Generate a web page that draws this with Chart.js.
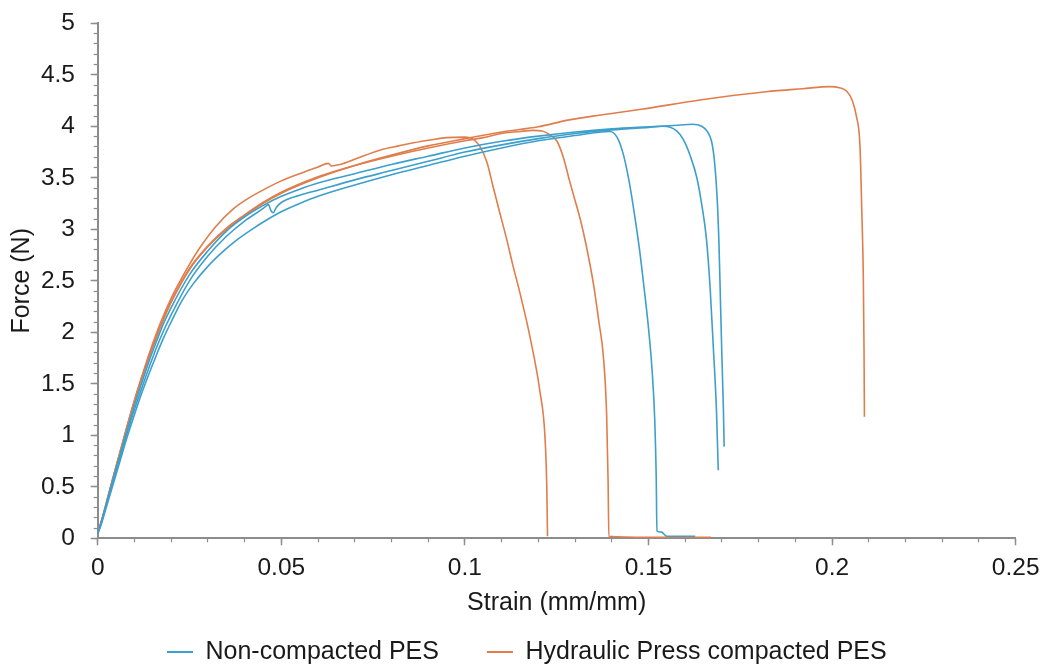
<!DOCTYPE html>
<html>
<head>
<meta charset="utf-8">
<title>Force vs strain</title>
<script src="https://cdn.jsdelivr.net/npm/chart.js@4.4.1/dist/chart.umd.min.js"></script>
<style>
  html, body { margin: 0; padding: 0; background: #fff; }
  #wrap { width: 1042px; height: 664px; position: relative; }
</style>
</head>
<body>
<div id="wrap"><canvas id="force-strain"></canvas></div>
<script>
var BLUE = "#3d9fcb"
var ORANGE = "#e07d4c"
var AXIS = "#8c8c8c"
var TEXT = "#1a1a1a"

var SERIES_NAMES = ["Non-compacted PES", "Hydraulic Press compacted PES"]

// non-compacted samples
var nc1Strain = [0, 0.001, 0.002, 0.004, 0.006, 0.008, 0.010, 0.012, 0.014, 0.016, 0.018, 0.020, 0.023, 0.026, 0.030, 0.034, 0.038, 0.042, 0.046, 0.050, 0.055, 0.060, 0.070, 0.080, 0.090, 0.100, 0.110, 0.120, 0.130, 0.136, 0.1395, 0.1415, 0.1432, 0.1448, 0.1462, 0.1476, 0.1488, 0.1500, 0.1510, 0.1517, 0.1521, 0.1523, 0.1535, 0.1550, 0.1600, 0.1627]
var nc1Force  = [0.04, 0.14, 0.26, 0.50, 0.74, 0.98, 1.20, 1.41, 1.60, 1.78, 1.95, 2.10, 2.31, 2.47, 2.64, 2.78, 2.90, 3.00, 3.09, 3.17, 3.25, 3.32, 3.43, 3.53, 3.62, 3.71, 3.79, 3.86, 3.91, 3.94, 3.95, 3.89, 3.72, 3.45, 3.14, 2.79, 2.43, 2.04, 1.62, 1.15, 0.60, 0.07, 0.06, 0.02, 0.02, 0.02]

var nc2Strain = [0, 0.001, 0.002, 0.004, 0.006, 0.008, 0.010, 0.012, 0.014, 0.016, 0.018, 0.020, 0.025, 0.030, 0.035, 0.040, 0.045, 0.0465, 0.0472, 0.0478, 0.0486, 0.050, 0.055, 0.060, 0.070, 0.080, 0.090, 0.100, 0.110, 0.120, 0.130, 0.140, 0.150, 0.1540, 0.1575, 0.1595, 0.1615, 0.1631, 0.1645, 0.1658, 0.1668, 0.1676, 0.1685, 0.1690]
var nc2Force  = [0.05, 0.15, 0.28, 0.53, 0.78, 1.02, 1.25, 1.46, 1.66, 1.85, 2.02, 2.17, 2.50, 2.74, 2.93, 3.08, 3.20, 3.24, 3.18, 3.16, 3.21, 3.26, 3.33, 3.38, 3.48, 3.57, 3.66, 3.75, 3.82, 3.88, 3.93, 3.965, 3.99, 4.00, 3.96, 3.87, 3.70, 3.51, 3.24, 2.90, 2.42, 1.89, 1.25, 0.66]

var nc3Strain = [0, 0.001, 0.002, 0.004, 0.006, 0.008, 0.010, 0.012, 0.014, 0.016, 0.018, 0.020, 0.025, 0.030, 0.035, 0.040, 0.045, 0.050, 0.055, 0.060, 0.070, 0.080, 0.090, 0.100, 0.110, 0.120, 0.130, 0.140, 0.150, 0.158, 0.162, 0.1645, 0.1660, 0.1672, 0.1680, 0.1687, 0.1692, 0.1696, 0.1700, 0.1704, 0.1706]
var nc3Force  = [0.05, 0.16, 0.29, 0.55, 0.80, 1.05, 1.29, 1.51, 1.72, 1.91, 2.09, 2.24, 2.56, 2.79, 2.98, 3.12, 3.23, 3.32, 3.39, 3.45, 3.54, 3.63, 3.71, 3.79, 3.855, 3.905, 3.945, 3.975, 3.995, 4.01, 4.02, 4.00, 3.95, 3.85, 3.65, 3.30, 2.85, 2.30, 1.75, 1.25, 0.89]

// hydraulic press compacted samples
var hp1Strain = [0, 0.001, 0.002, 0.004, 0.006, 0.008, 0.010, 0.012, 0.014, 0.016, 0.018, 0.020, 0.022, 0.025, 0.028, 0.032, 0.037, 0.041, 0.046, 0.050, 0.055, 0.060, 0.0628, 0.0637, 0.066, 0.070, 0.077, 0.082, 0.086, 0.091, 0.095, 0.100, 0.102, 0.104, 0.106, 0.1077, 0.1095, 0.1114, 0.113, 0.115, 0.1177, 0.1205, 0.1218, 0.1223, 0.1225]
var hp1Force  = [0.06, 0.17, 0.30, 0.57, 0.83, 1.09, 1.34, 1.57, 1.79, 1.99, 2.17, 2.33, 2.47, 2.66, 2.83, 3.02, 3.20, 3.30, 3.40, 3.47, 3.54, 3.605, 3.64, 3.615, 3.63, 3.68, 3.77, 3.81, 3.84, 3.87, 3.89, 3.895, 3.88, 3.81, 3.65, 3.41, 3.16, 2.90, 2.66, 2.38, 1.96, 1.41, 0.99, 0.50, 0.02]

var hp2Strain = [0, 0.001, 0.002, 0.004, 0.006, 0.008, 0.010, 0.012, 0.014, 0.016, 0.018, 0.020, 0.025, 0.030, 0.035, 0.040, 0.045, 0.050, 0.060, 0.070, 0.080, 0.090, 0.100, 0.105, 0.110, 0.115, 0.1185, 0.121, 0.123, 0.125, 0.1268, 0.1285, 0.1300, 0.1314, 0.1330, 0.1350, 0.1365, 0.1377, 0.1386, 0.1390, 0.1392, 0.150, 0.167]
var hp2Force  = [0.05, 0.16, 0.29, 0.56, 0.82, 1.08, 1.33, 1.56, 1.77, 1.96, 2.14, 2.30, 2.62, 2.84, 3.01, 3.14, 3.26, 3.36, 3.51, 3.62, 3.71, 3.79, 3.86, 3.89, 3.93, 3.95, 3.96, 3.955, 3.92, 3.86, 3.70, 3.47, 3.28, 3.10, 2.85, 2.47, 2.10, 1.77, 1.20, 0.55, 0.02, 0.01, 0.01]

var hp3Strain = [0, 0.001, 0.002, 0.004, 0.006, 0.008, 0.010, 0.012, 0.014, 0.016, 0.018, 0.020, 0.025, 0.030, 0.035, 0.040, 0.045, 0.050, 0.060, 0.070, 0.080, 0.090, 0.100, 0.110, 0.120, 0.128, 0.137, 0.148, 0.164, 0.182, 0.192, 0.1994, 0.202, 0.204, 0.2055, 0.2066, 0.2076, 0.2081, 0.2085, 0.2087, 0.2088]
var hp3Force  = [0.05, 0.16, 0.29, 0.56, 0.82, 1.08, 1.33, 1.55, 1.76, 1.95, 2.13, 2.29, 2.61, 2.83, 3.00, 3.13, 3.25, 3.35, 3.50, 3.62, 3.72, 3.81, 3.88, 3.945, 3.995, 4.06, 4.11, 4.165, 4.255, 4.335, 4.365, 4.385, 4.375, 4.34, 4.25, 4.10, 3.80, 3.16, 2.54, 1.80, 1.18]

function points(xs, ys) {
  return xs.map(function (x, i) { return { x: x, y: ys[i] } })
}

function curve(name, color, xs, ys) {
  return {
    label: name,
    data: points(xs, ys),
    borderColor: color,
    backgroundColor: color,
    borderWidth: 1.6,
    pointRadius: 0,
    showLine: true,
    cubicInterpolationMode: "monotone"
  }
}

// 5 not 5.0, 0.1 not 0.10
function plainLabel(v) {
  return String(Math.round(v * 1000) / 1000)
}

Chart.defaults.font.family = '"Liberation Sans", Arial, sans-serif'
Chart.defaults.color = TEXT

var ctx = document.getElementById("force-strain")
var chart = new Chart(ctx, {
  type: "scatter",
  data: {
    datasets: [
      curve(SERIES_NAMES[0], BLUE, nc1Strain, nc1Force),
      curve(SERIES_NAMES[0], BLUE, nc2Strain, nc2Force),
      curve(SERIES_NAMES[0], BLUE, nc3Strain, nc3Force),
      curve(SERIES_NAMES[1], ORANGE, hp1Strain, hp1Force),
      curve(SERIES_NAMES[1], ORANGE, hp2Strain, hp2Force),
      curve(SERIES_NAMES[1], ORANGE, hp3Strain, hp3Force)
    ]
  },
  options: {
    responsive: true,
    maintainAspectRatio: false,
    devicePixelRatio: 1,
    animation: false,
    layout: { padding: { left: 38, right: 26.3, top: 23.3, bottom: -10.5 } },
    plugins: {
      tooltip: { enabled: false },
      legend: {
        position: "bottom",
        labels: {
          boxWidth: 26,
          boxHeight: 2,
          padding: 48,
          color: TEXT,
          font: { size: 25 },
          filter: function (item) { return item.datasetIndex === 0 || item.datasetIndex === 3 },
          generateLabels: function (chart) {
            var items = Chart.defaults.plugins.legend.labels.generateLabels(chart)
            items.forEach(function (it) { it.fillStyle = it.strokeStyle; it.lineWidth = 0 })
            return items
          }
        }
      }
    },
    scales: {
      x: {
        type: "linear", position: "bottom", weight: 1,
        min: 0, max: 0.25,
        ticks: { stepSize: 0.05, padding: 8.5, color: TEXT, font: { size: 24.5 }, callback: plainLabel },
        grid: { drawOnChartArea: false, tickLength: 7, color: AXIS, tickWidth: 1.5 },
        border: { display: true, color: AXIS, width: 2 },
        title: { display: true, text: "Strain (mm/mm)", color: TEXT, font: { size: 25 }, padding: { top: 0, bottom: -26.5 } },
        afterFit: function (s) { s.height = 53.2; s.paddingLeft = 0; s.paddingRight = 0 }
      },
      y: {
        type: "linear", position: "left", weight: 1,
        min: 0, max: 5,
        ticks: { stepSize: 0.5, padding: 15.7, color: TEXT, font: { size: 24.5 }, callback: plainLabel },
        grid: { drawOnChartArea: false, tickLength: 7, color: AXIS, tickWidth: 1.5 },
        border: { display: true, color: AXIS, width: 2 },
        title: { display: true, text: "Force (N)", color: TEXT, font: { size: 25 }, padding: { top: -30.5, bottom: 0 } },
        afterFit: function (s) { s.width = 59.7; s.paddingTop = 0; s.paddingBottom = 0 }
      },
      x2: {
        type: "linear", position: "bottom", weight: 0,
        min: 0, max: 0.25,
        ticks: { stepSize: 0.01, display: false },
        grid: { drawOnChartArea: false, tickLength: 4, color: AXIS, tickWidth: 1.2 },
        border: { display: false },
        afterFit: function (s) { s.height = 0; s.paddingLeft = 0; s.paddingRight = 0 }
      },
      y2: {
        type: "linear", position: "left", weight: 0,
        min: 0, max: 5,
        ticks: { stepSize: 0.1, display: false },
        grid: { drawOnChartArea: false, tickLength: 4, color: AXIS, tickWidth: 1.2 },
        border: { display: false },
        afterFit: function (s) { s.width = 0; s.paddingTop = 0; s.paddingBottom = 0 }
      }
    }
  }
})
</script>
</body>
</html>
